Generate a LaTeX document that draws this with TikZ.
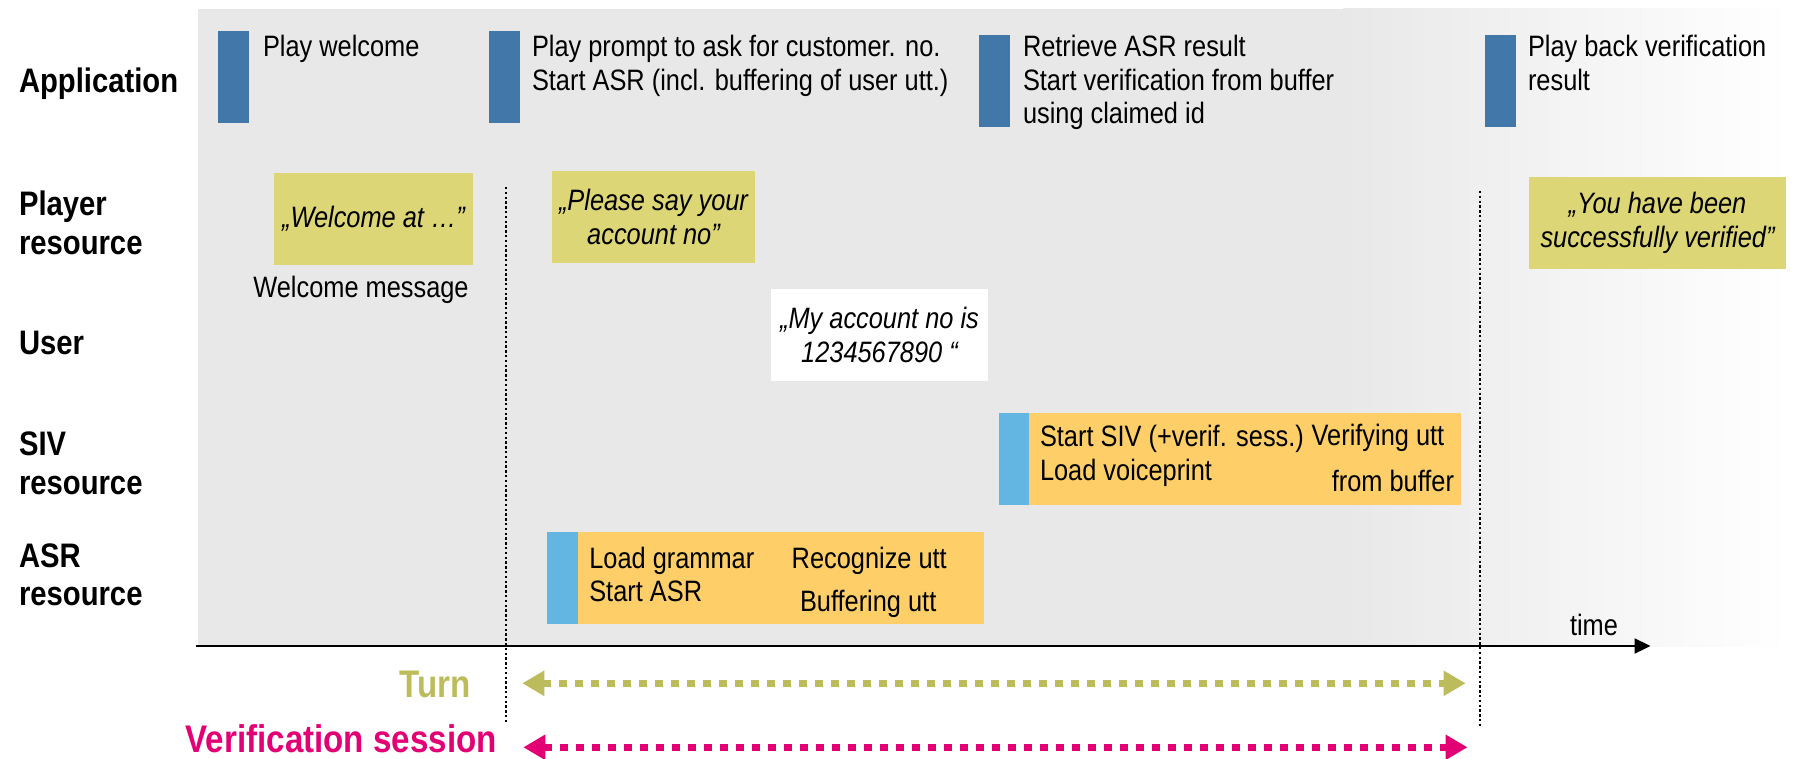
\documentclass[tikz,border=0pt]{standalone}
\usepackage{fontspec}
\setmainfont{Liberation Sans}[FakeStretch=0.86]
\usetikzlibrary{arrows.meta}

\definecolor{bggray}{HTML}{E8E8E8}
\definecolor{appblue}{HTML}{4277A9}
\definecolor{resblue}{HTML}{63B6E2}
\definecolor{busy}{HTML}{FECF68}
\definecolor{prompt}{HTML}{DDD677}
\definecolor{turncol}{HTML}{BCBC5C}
\definecolor{sesscol}{HTML}{E20074}

\newcommand\lanefont{\fontsize{34}{38.6}\selectfont\bfseries}
\newcommand\bodyfont{\fontsize{29.5}{33.5}\selectfont}
\newcommand\quotefont{\fontsize{29.5}{34.3}\selectfont\itshape}
\newcommand\spanfont{\fontsize{38.5}{44}\selectfont\bfseries}

\begin{document}
\begin{tikzpicture}[x=1pt,y=-1pt,
  every node/.style={inner sep=0pt,outer sep=0pt},
  % multi-line text nodes are placed by the baseline of their last line
  lane/.style={font=\lanefont,anchor=base west,align=left},
  body/.style={font=\bodyfont,anchor=base west,align=left},
  appbar/.style={fill=appblue,anchor=north west,minimum width=31pt,minimum height=92pt},
  startbar/.style={fill=resblue,anchor=north west,minimum width=30pt,minimum height=92pt},
  busybox/.style={fill=busy,anchor=north west,minimum height=92pt},
  quotebox/.style={font=\quotefont,align=center,minimum height=92pt},
  dotline/.style={line width=2.6pt,dash pattern=on 2.4pt off 2.4pt},
  spanline/.style={line width=7.5pt,dash pattern=on 8pt off 8pt,
    {Triangle[length=22pt,width=24pt]}-{Triangle[length=22pt,width=24pt]}},
  spanlabel/.style={font=\spanfont,anchor=base east}
]
\useasboundingbox (0,0) rectangle (1798,759);

% timeline background, fading out towards the right
\fill[bggray] (198,9) rectangle (1344,646);
\shade[left color=bggray,right color=white] (1343,9) rectangle (1790,646);

% lane labels
\node[lane] (lApp)  at (19,92.7)  {Application};
\node[lane] (lPlay) at (19,254.6) {Player\\resource};
\node[lane] (lUser) at (19,354)   {User};
\node[lane] (lSiv)  at (19,494.3) {SIV\\resource};
\node[lane] (lAsr)  at (19,605.6) {ASR\\resource};

% application steps
\node[appbar] (a1) at (218,31) {};
\node[body] (a1t) at (263,56.7) {Play welcome};
\node[appbar] (a2) at (489,31) {};
\node[body] (a2t) at (532,90.5) {Play prompt to ask for customer. no.\\Start ASR (incl. buffering of user utt.)};
\node[appbar] (a3) at (979,35) {};
\node[body] (a3t) at (1023,124) {Retrieve ASR result\\Start verification from buffer\\using claimed id};
\node[appbar] (a4) at (1485,35) {};
\node[body] (a4t) at (1528,90.5) {Play back verification\\result};

% player prompts
\node[quotebox,fill=prompt,minimum width=198.5pt] (p1) at (373.5,219) {„Welcome at …”};
\node[body,anchor=base] (p1t) at (361,297) {Welcome message};
\node[quotebox,fill=prompt,minimum width=203pt] (p2) at (653.5,217) {„Please say your\\account no”};
\node[quotebox,fill=prompt,minimum width=257pt] (p3) at (1657.5,223) {„You have been\\successfully verified”};

% user utterance
\node[quotebox,fill=white,minimum width=217pt] (u1) at (879.5,335) {„My account no is\\1234567890 “};

% SIV resource
\node[busybox,minimum width=432pt] (sivBox) at (1029,412.5) {};
\node[startbar] (sivStart) at (999,412.5) {};
\node[body] (s1) at (1040,480) {Start SIV (+verif. sess.)\\Load voiceprint};
\node[body] (s2) at (1311.7,445) {Verifying utt};
\node[body,anchor=base east] (s3) at (1454,491.7) {from buffer};

% ASR resource
\node[busybox,minimum width=406pt] (asrBox) at (578,532) {};
\node[startbar,minimum width=31pt] (asrStart) at (547,532) {};
\node[body] (r1) at (589.3,601.7) {Load grammar\\Start ASR};
\node[body] (r2) at (791.7,568.3) {Recognize utt};
\node[body] (r3) at (800,611.7) {Buffering utt};

% time axis
\coordinate (t0) at (196,646);
\coordinate (t1) at (1650.5,646);
\draw[line width=2.2pt,-{Triangle[length=16pt,width=15pt]}] (t0) -- (t1);
\node[body] (tl) at (1570,635) {time};

% turn boundaries
\coordinate (b1top) at (506,187);
\coordinate (b1bot) at (506,722);
\coordinate (b2top) at (1480,191);
\coordinate (b2bot) at (1480,727);
\draw[dotline] (b1top) -- (b1bot);
\draw[dotline] (b2top) -- (b2bot);

% turn and verification session spans
\node[spanlabel,text=turncol] (turnLbl) at (470.7,697.3) {Turn};
\coordinate (turnL) at (522.3,683.3);
\coordinate (turnR) at (1465.6,683.3);
\draw[spanline,turncol] (turnL) -- (turnR);

\node[spanlabel,text=sesscol] (sessLbl) at (496.7,752.5) {Verification session};
\coordinate (sessL) at (523.3,747.3);
\coordinate (sessR) at (1467.5,747.3);
\draw[spanline,sesscol] (sessL) -- (sessR);
\end{tikzpicture}
\end{document}
